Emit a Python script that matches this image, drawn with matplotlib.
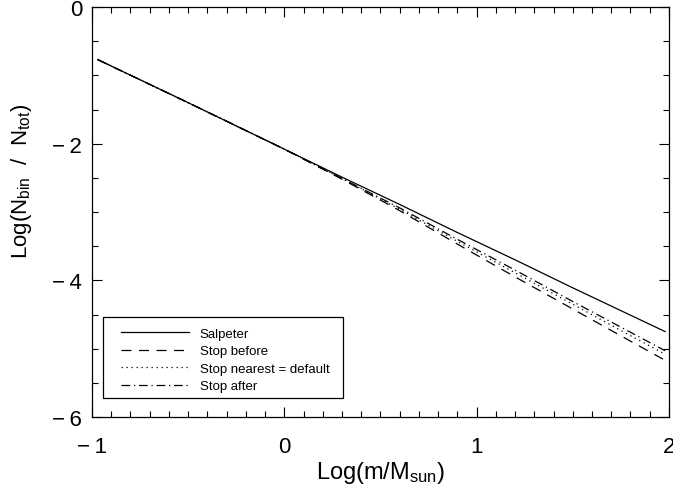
import matplotlib
matplotlib.use('Agg')
import matplotlib.pyplot as plt
from matplotlib.ticker import MultipleLocator, FuncFormatter
from matplotlib.patches import Rectangle

plt.rcParams['font.family'] = ['Liberation Sans', 'DejaVu Sans']
plt.rcParams['mathtext.default'] = 'regular'

# log mass (bin centres) and log fraction per bin
log_m = [-0.97, -0.5, 0.0, 0.3, 0.6, 0.9, 1.2, 1.5, 1.8, 1.98]
salpeter = [-0.77, -1.40, -2.08, -2.49, -2.89, -3.30, -3.70, -4.11, -4.51, -4.75]
stop_before = [-0.77, -1.40, -2.08, -2.52, -2.98, -3.47, -3.95, -4.42, -4.89, -5.17]
stop_nearest = [-0.77, -1.40, -2.08, -2.51, -2.96, -3.43, -3.89, -4.35, -4.81, -5.08]
stop_after = [-0.77, -1.40, -2.08, -2.51, -2.94, -3.40, -3.85, -4.31, -4.76, -5.03]


def tick_fmt(v, pos):
    # IDL-like labels: long minus, small gap
    n = int(round(v))
    if n < 0:
        return '\u2212\u2009%d' % (-n)
    return '%d' % n


fig = plt.figure(figsize=(6.73, 4.89), dpi=100)
ax = fig.add_axes([0.1367, 0.1452, 0.8573, 0.8384])

lw = 0.9
ax.plot(log_m, salpeter, color='black', lw=lw, ls='-', label='Salpeter')
ax.plot(log_m, stop_before, color='black', lw=lw, ls=(0, (8, 6)), label='Stop before')
ax.plot(log_m, stop_nearest, color='black', lw=lw, ls=(0, (1, 3)), label='Stop nearest = default')
ax.plot(log_m, stop_after, color='black', lw=lw, ls=(0, (7, 3, 1, 3)), label='Stop after')

ax.set_xlim(-1, 2)
ax.set_ylim(-6, 0)
ax.xaxis.set_major_locator(MultipleLocator(1))
ax.xaxis.set_minor_locator(MultipleLocator(0.1))
ax.yaxis.set_major_locator(MultipleLocator(2))
ax.yaxis.set_minor_locator(MultipleLocator(0.5))
ax.xaxis.set_major_formatter(FuncFormatter(tick_fmt))
ax.yaxis.set_major_formatter(FuncFormatter(tick_fmt))
ax.tick_params(which='both', direction='in', top=True, right=True, width=0.8)
ax.tick_params(which='major', length=7)
ax.tick_params(which='minor', length=4)
ax.tick_params(axis='x', which='major', pad=14, labelsize=16)
ax.tick_params(axis='y', which='major', pad=7, labelsize=16)
for s in ax.spines.values():
    s.set_linewidth(0.9)

ax.set_xlabel('Log(m/M$_{sun}$)', fontsize=17)
ax.xaxis.set_label_coords(0.5, -0.102)
ax.set_ylabel('Log(N$_{bin}$  /  N$_{tot}$)', fontsize=16)
ax.yaxis.set_label_coords(-0.10, 0.576)

# legend box drawn separately so the entries can sit with IDL-like padding
ax.add_patch(Rectangle((0.019, 0.046), 0.416, 0.198, transform=ax.transAxes,
                       fill=False, edgecolor='black', lw=0.9, zorder=5))
ax.legend(loc='upper left', bbox_to_anchor=(0.05, 0.218), borderaxespad=0, borderpad=0,
          fontsize=9.5, handlelength=5.15, handletextpad=0.83, labelspacing=0.4,
          frameon=False)

fig.savefig('out.png', dpi=100)
